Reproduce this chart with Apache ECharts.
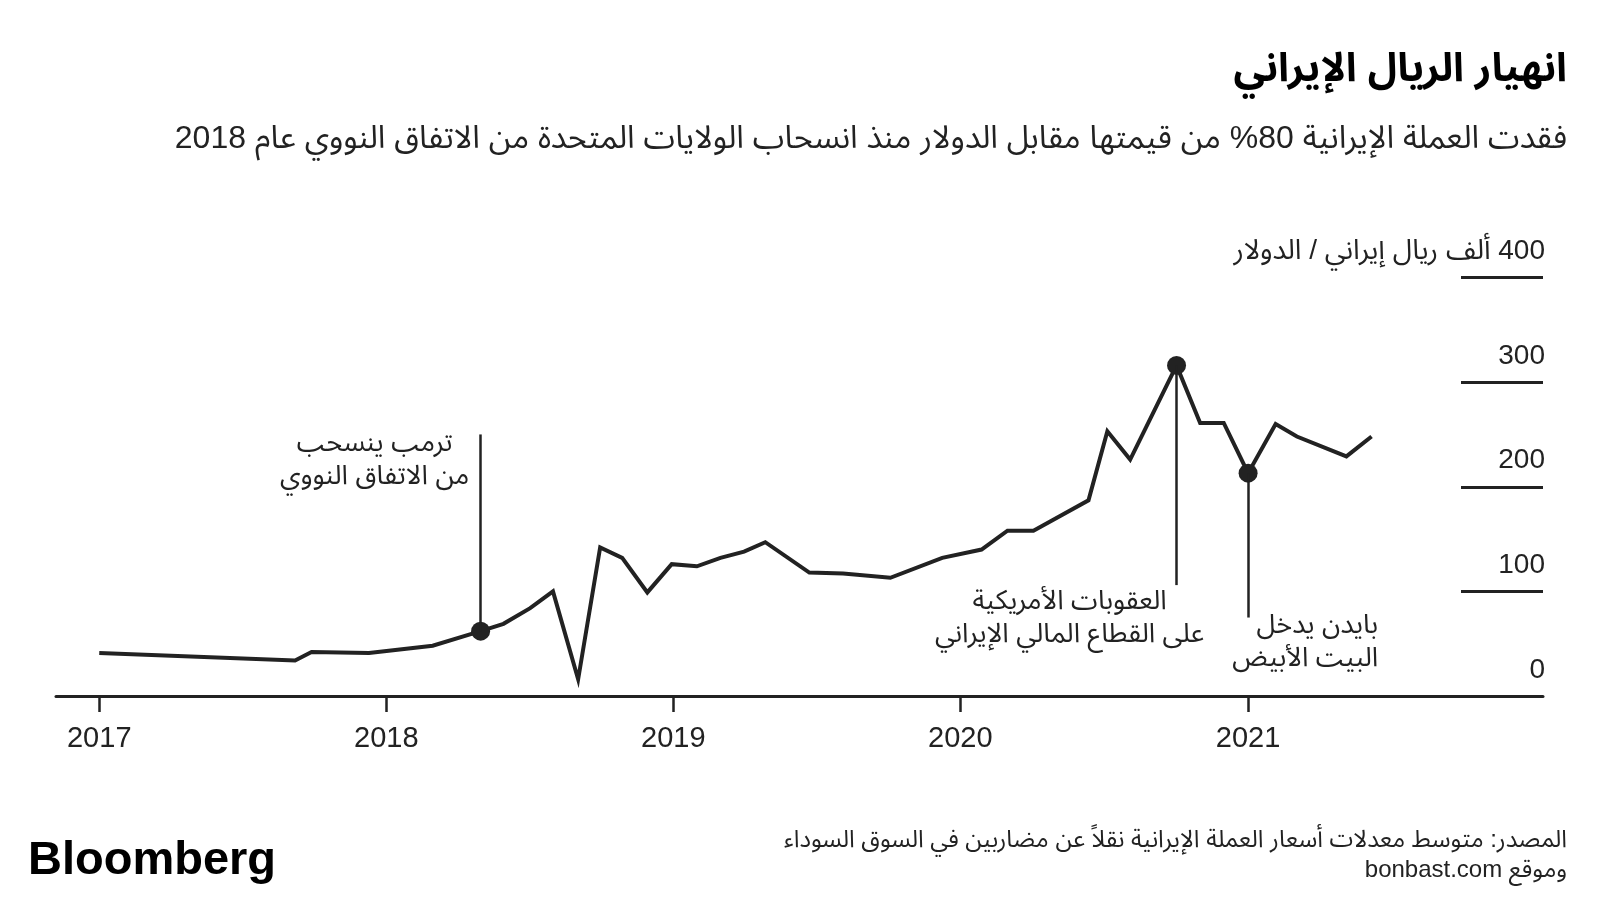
<!DOCTYPE html>
<html>
<head>
<meta charset="utf-8">
<script src="https://cdn.jsdelivr.net/npm/echarts@6.0.0/dist/echarts.min.js"></script>
<style>
  html, body { margin: 0; padding: 0; background: #fff; }
  #chart { width: 1600px; height: 900px; }
</style>
</head>
<body>
<div id="chart"></div>
<script>
// monthly average rate, thousand rials per dollar
const dates = ['2017-01-01', '2017-09-07', '2017-09-28', '2017-12-10', '2018-03-01', '2018-05-01',
  '2018-05-30', '2018-07-03', '2018-08-01', '2018-09-02', '2018-09-30', '2018-10-28', '2018-11-29',
  '2018-12-30', '2019-01-31', '2019-03-02', '2019-04-01', '2019-04-28', '2019-06-23', '2019-08-05',
  '2019-10-04', '2019-12-09', '2020-01-28', '2020-03-01', '2020-04-03', '2020-06-12', '2020-07-06',
  '2020-08-04', '2020-10-02', '2020-11-01', '2020-12-01', '2021-01-01', '2021-02-05', '2021-03-04',
  '2021-05-06', '2021-06-07']
const values = [41, 34, 42, 41, 48, 62, 69, 84, 100, 16, 142, 132, 99, 126, 124, 132, 138, 147,
  118, 117, 113, 132, 140, 158, 158, 187, 253, 226, 316, 261, 261, 213, 260, 248, 229, 248]

const yearLabels = [2017, 2018, 2019, 2020, 2021]
const yTicks = [0, 100, 200, 300, 400]

// events
const eventDates = ['2018-05-01', '2020-10-02', '2021-01-01']
const eventValues = [62, 316, 213]
const eventLineEnds = [250, 106, 75]
const eventLabels = [
  ['ترمب ينسحب', 'من الاتفاق النووي'],
  ['العقوبات الأمريكية', 'على القطاع المالي الإيراني'],
  ['بايدن يدخل', 'البيت الأبيض']
]

const titleText = 'انهيار الريال الإيراني'
const subtitleText = 'فقدت العملة الإيرانية 80% من قيمتها مقابل الدولار منذ انسحاب الولايات المتحدة من الاتفاق النووي عام 2018'
const unitText = 'ألف ريال إيراني / الدولار'
const sourceLines = ['المصدر: متوسط معدلات أسعار العملة الإيرانية نقلاً عن مضاربين في السوق السوداء', 'وموقع bonbast.com']

const ink = '#222222'
const FONT = '"Liberation Sans", "Noto Sans Arabic", "DejaVu Sans", sans-serif'
// force right-to-left order inside canvas text
const rtl = s => '\u202B' + s + '\u202C'
const ts = s => +new Date(s + 'T00:00:00')

const yearTicks = yearLabels.map(y => +new Date(y, 0, 1))

const chart = echarts.init(document.getElementById('chart'))

const option = {
  animation: false,
  backgroundColor: '#ffffff',
  textStyle: { fontFamily: FONT, color: ink },
  title: [
    {
      text: rtl(titleText), right: 33, top: 50, padding: 0,
      textStyle: { fontSize: 40, fontWeight: 'bold', color: '#000', fontFamily: FONT }
    },
    {
      text: rtl(subtitleText), right: 33, top: 123, padding: 0,
      textStyle: { fontSize: 32, fontWeight: 'normal', color: ink, fontFamily: FONT }
    },
    {
      text: 'Bloomberg', left: 28, top: 838, padding: 0,
      textStyle: { fontSize: 47, fontWeight: 'bold', color: '#000', fontFamily: '"Liberation Sans", Arial, sans-serif' }
    }
  ],
  grid: { left: 56, right: 57, top: 277.5, bottom: 204 },
  xAxis: {
    type: 'value',
    min: ts('2016-11-07'),
    max: ts('2022-01-11'),
    axisLine: { lineStyle: { color: ink, width: 3 } },
    axisTick: { show: true, customValues: yearTicks, length: 16, lineStyle: { color: ink, width: 2.5 } },
    axisLabel: {
      customValues: yearTicks,
      formatter: v => String(new Date(v).getFullYear()),
      fontSize: 29, color: ink, margin: 28, fontFamily: '"Liberation Sans", sans-serif'
    },
    splitLine: { show: false }
  },
  yAxis: {
    type: 'value',
    position: 'right',
    min: yTicks[0], max: yTicks[yTicks.length - 1], interval: 100,
    axisLine: { show: false },
    axisTick: { show: true, inside: true, length: 82, lineStyle: { color: ink, width: 3 } },
    axisLabel: {
      inside: true, margin: -2, verticalAlign: 'bottom', padding: [0, 0, 12, 0],
      fontSize: 28, color: ink,
      formatter: v => v === 400 ? rtl(v + ' ' + unitText) : String(v)
    },
    splitLine: { show: false }
  },
  series: [
    {
      type: 'line',
      data: dates.map((d, i) => [ts(d), values[i]]),
      symbol: 'none',
      lineStyle: { color: ink, width: 4, join: 'miter' },
      z: 3,
      markLine: {
        silent: true,
        symbol: 'none',
        animation: false,
        label: { show: false },
        lineStyle: { color: ink, width: 2.5, type: 'solid' },
        data: eventDates.map((d, i) => [{ coord: [ts(d), eventValues[i]] }, { coord: [ts(d), eventLineEnds[i]] }])
      }
    },
    {
      type: 'scatter',
      data: eventDates.map((d, i) => [ts(d), eventValues[i]]),
      symbolSize: 19,
      itemStyle: { color: ink, opacity: 1 },
      z: 4
    }
  ]
}

chart.setOption(option)

// annotation text, placed next to the end of each event line
const noteStyle = [
  { dx: -106, dy: -7, align: 'center' },
  { dx: -107, dy: 0, align: 'center' },
  { dx: 130, dy: -8, align: 'right' }
]
const notes = eventDates.map((d, i) => {
  const p = chart.convertToPixel({ gridIndex: 0 }, [ts(d), eventLineEnds[i]])
  const s = noteStyle[i]
  return {
    type: 'text',
    x: p[0] + s.dx,
    y: p[1] + s.dy,
    style: {
      text: eventLabels[i].map(rtl).join('\n'),
      font: '27px ' + FONT,
      fill: ink,
      align: s.align,
      textAlign: s.align,
      verticalAlign: 'top',
      textVerticalAlign: 'top',
      lineHeight: 33
    }
  }
})
// source note, right-aligned under the chart
notes.push({
  type: 'text',
  x: 1567,
  y: 825,
  style: {
    text: sourceLines.map(rtl).join('\n'),
    font: '24px ' + FONT,
    fill: ink,
    align: 'right',
    textAlign: 'right',
    verticalAlign: 'top',
    textVerticalAlign: 'top',
    lineHeight: 30
  }
})
chart.setOption({ graphic: notes })
</script>
</body>
</html>
